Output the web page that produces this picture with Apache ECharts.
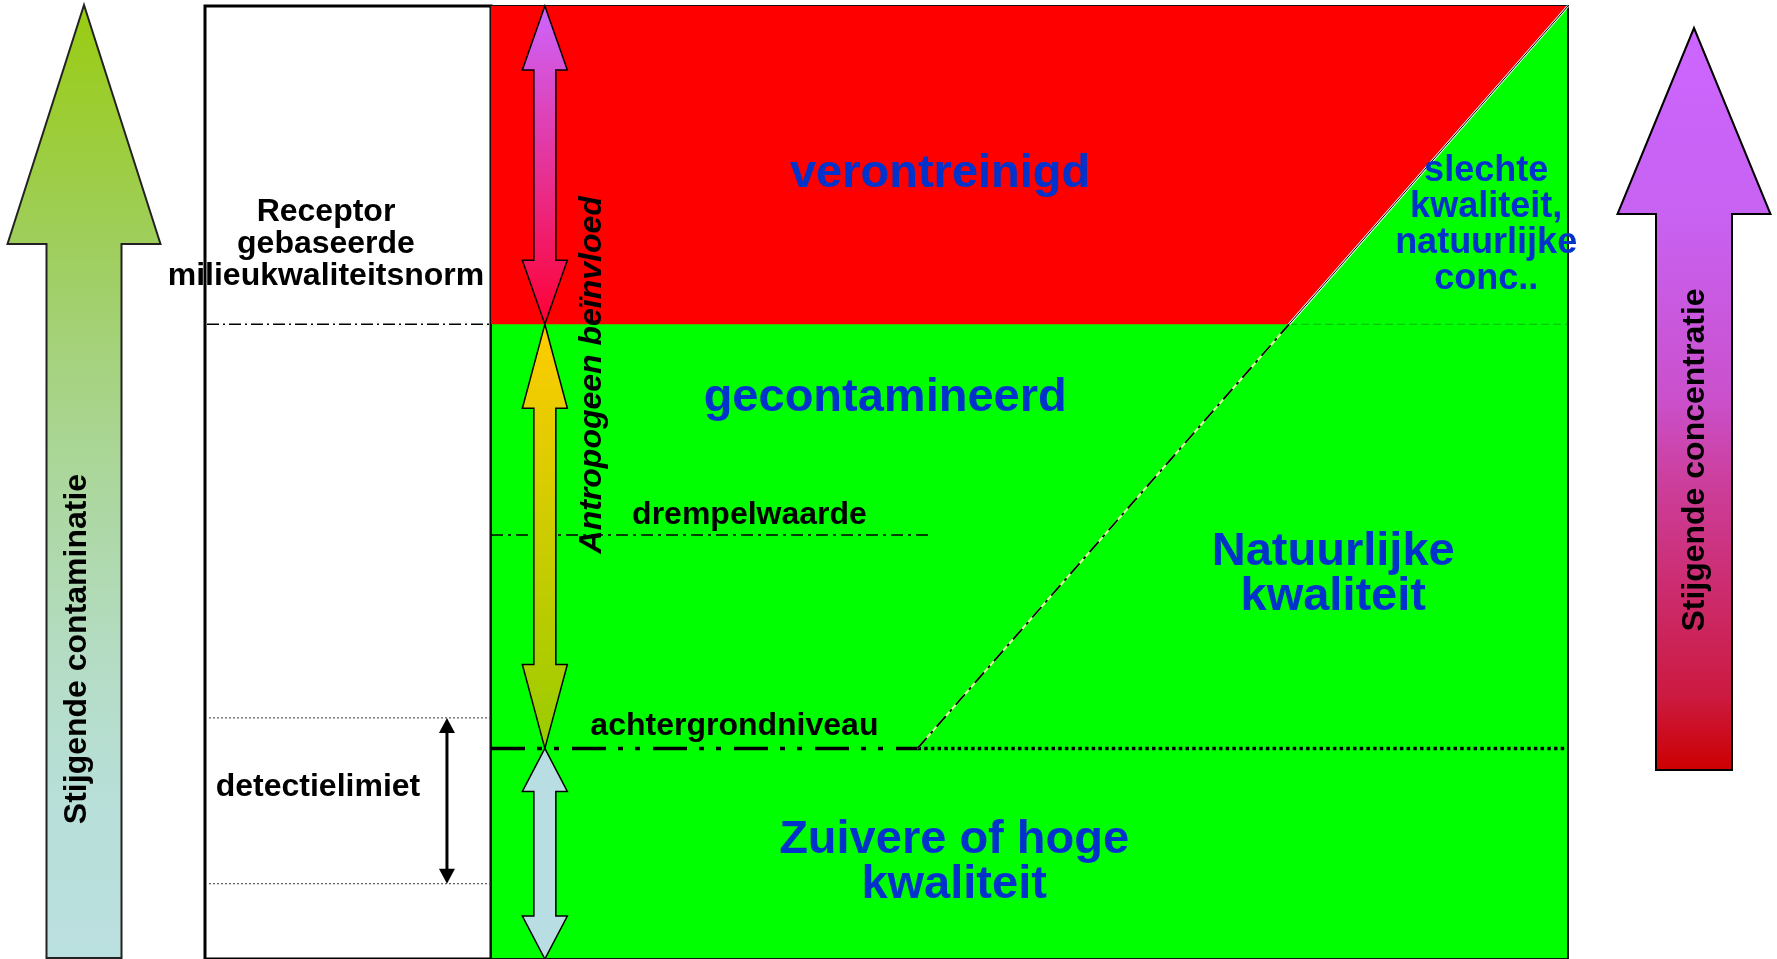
<!DOCTYPE html>
<html>
<head>
<meta charset="utf-8">
<title>Grondwaterkwaliteit</title>
<script src="https://cdn.jsdelivr.net/npm/echarts/dist/echarts.min.js"></script>
<style>
    html, body { margin: 0; padding: 0; background: #fff; }
    #chart { width: 1777px; height: 959px; }
</style>
</head>
<body>
<div id="chart"></div>
<script>
// concentration axis: 0 = bottom of the field, 100 = top
const levelNames = ['milieukwaliteitsnorm', 'drempelwaarde', 'achtergrondniveau']
const levelValues = [66.6, 44.5, 22.1]
const detectionBand = [25.3, 7.9]

// natural quality boundary (x = share of the field, y = concentration)
const naturalLine = [[39.6, 22.1], [74.1, 66.6], [100, 100]]
const drempelEnd = 40.7

// antropogeen arrows: spans on the concentration axis
const arrowSpans = [[100, 66.6], [66.6, 22.1], [22.1, 0]]
const arrowX = 5.0

const zoneNames = ['verontreinigd', 'gecontamineerd', 'Natuurlijke\nkwaliteit', 'Zuivere of hoge\nkwaliteit', 'slechte\nkwaliteit,\nnatuurlijke\nconc..']
const zoneAnchors = [[41.7, 82.4], [36.6, 58.9], [78.2, 40.3], [43.0, 10.1], [92.4, 77.0]]

const markerNames = ['drempelwaarde', 'achtergrondniveau', 'Antropogeen beïnvloed']
const markerAnchors = [[24.0, 46.6], [22.6, 24.4], [9.4, 61.3]]

const boxNames = ['Receptor\ngebaseerde\nmilieukwaliteitsnorm', 'detectielimiet']
const boxAnchors = [[42.3, 75.0], [39.5, 18.0]]
const detectX = 84.6

const sideLabels = ['Stijgende contaminatie', 'Stijgende concentratie']

const FONT = '"Liberation Sans", Arial, Helvetica, sans-serif'
const BLUE = '#0033cc'
const arrowColors = [['#cc66ff', '#ff0033'], ['#ffcc00', '#99cc00'], ['#b8dde2', '#b8dde2']]
const arrowHeads = [64, 84, 43]

const [NORM, DREMPEL, ACHTERGROND] = levelValues
const [natStart, natCross, natEnd] = naturalLine

let chart = echarts.init(document.getElementById('chart'))

function doubleArrow(params, api) {
    const top = api.coord([api.value(0), api.value(1)])
    const bot = api.coord([api.value(0), api.value(2)])
    const i = params.dataIndex
    const cx = top[0], ty = top[1], by = bot[1]
    const hw = 22.5, sw = 11, hl = arrowHeads[i]
    const pts = [
        [cx, ty], [cx + hw, ty + hl], [cx + sw, ty + hl], [cx + sw, by - hl], [cx + hw, by - hl],
        [cx, by], [cx - hw, by - hl], [cx - sw, by - hl], [cx - sw, ty + hl], [cx - hw, ty + hl]
    ]
    return {
        type: 'polygon',
        shape: {points: pts},
        style: {
            fill: new echarts.graphic.LinearGradient(0, 0, 0, 1, [
                {offset: 0, color: arrowColors[i][0]},
                {offset: 1, color: arrowColors[i][1]}
            ]),
            stroke: '#000',
            lineWidth: 1.5
        }
    }
}

function detectArrow(params, api) {
    const top = api.coord([api.value(0), api.value(1)])
    const bot = api.coord([api.value(0), api.value(2)])
    const cx = top[0], ty = top[1], by = bot[1]
    const hw = 8, hl = 15
    return {
        type: 'group',
        children: [
            {type: 'line', shape: {x1: cx, y1: ty + hl - 2, x2: cx, y2: by - hl + 2}, style: {stroke: '#000', lineWidth: 3}},
            {type: 'polygon', shape: {points: [[cx, ty], [cx + hw, ty + hl], [cx - hw, ty + hl]]}, style: {fill: '#000'}},
            {type: 'polygon', shape: {points: [[cx, by], [cx + hw, by - hl], [cx - hw, by - hl]]}, style: {fill: '#000'}}
        ]
    }
}

function seg(name, data, lineStyle, idx, z) {
    return {
        name: name, type: 'line', xAxisIndex: idx, yAxisIndex: idx,
        data: data, symbol: 'none', silent: true, lineStyle: lineStyle, z: z || 3
    }
}

function labels(names, anchors, idx, label, extra) {
    return {
        type: 'scatter', xAxisIndex: idx, yAxisIndex: idx, silent: true,
        symbolSize: 1, itemStyle: {color: 'rgba(0,0,0,0)', opacity: 1}, z: 10,
        data: names.map((n, i) => Object.assign({name: n, value: anchors[i]}, extra ? extra[i] : {})),
        label: Object.assign({
            show: true, position: 'inside', formatter: p => p.name, opacity: 1,
            fontFamily: FONT, fontWeight: 'bold', align: 'center', verticalAlign: 'middle'
        }, label)
    }
}

function sideArrow(tipX, tipY, headY, headHalf, shaftHalf, bottomY, stops, stroke) {
    return {
        type: 'polygon',
        shape: {points: [
            [tipX, tipY], [tipX + headHalf, headY], [tipX + shaftHalf, headY], [tipX + shaftHalf, bottomY],
            [tipX - shaftHalf, bottomY], [tipX - shaftHalf, headY], [tipX - headHalf, headY]
        ]},
        style: {
            fill: new echarts.graphic.LinearGradient(0, 0, 0, 1, stops),
            stroke: stroke, lineWidth: 2
        }
    }
}

function sideText(text, x, y) {
    return {
        type: 'text', x: x, y: y, rotation: Math.PI / 2,
        style: {text: text, fontFamily: FONT, fontWeight: 'bold', fontSize: 32, fill: '#000', align: 'center', verticalAlign: 'middle'}
    }
}

let option = {
    animation: false,
    grid: [
        {left: 205, top: 6, width: 286, height: 953, show: true, backgroundColor: '#fff', borderColor: '#000', borderWidth: 3},
        {left: 491, top: 6, width: 1077, height: 953, show: true, backgroundColor: '#00ff00', borderColor: '#111', borderWidth: 2}
    ],
    xAxis: [
        {type: 'value', gridIndex: 0, min: 0, max: 100, show: false},
        {type: 'value', gridIndex: 1, min: 0, max: 100, show: false}
    ],
    yAxis: [
        {type: 'value', gridIndex: 0, min: 0, max: 100, show: false},
        {type: 'value', gridIndex: 1, min: 0, max: 100, show: false}
    ],
    graphic: [
        sideArrow(84, 5, 244, 76.5, 37.5, 958, [
            {offset: 0, color: '#99cc11'}, {offset: 0.25, color: '#9fce5c'}, {offset: 0.45, color: '#a9d592'},
            {offset: 0.68, color: '#b4dcc3'}, {offset: 0.83, color: '#b8dfd8'}, {offset: 1, color: '#bbe0e0'}
        ], '#222'),
        sideArrow(1694, 28, 214, 76.5, 38, 770, [
            {offset: 0, color: '#cc66ff'}, {offset: 0.25, color: '#c862f2'}, {offset: 0.5, color: '#ca50cc'},
            {offset: 0.6, color: '#cc40a0'}, {offset: 0.77, color: '#cc2a6a'}, {offset: 0.9, color: '#cc1a40'},
            {offset: 1, color: '#cc0000'}
        ], '#000'),
        sideText(sideLabels[0], 77, 649),
        sideText(sideLabels[1], 1695, 460)
    ],
    series: [
        // red zone above the norm, left of the natural boundary
        {
            name: 'verontreinigd', type: 'line', xAxisIndex: 1, yAxisIndex: 1, silent: true,
            data: [[0, NORM], natCross, natEnd], symbol: 'none',
            lineStyle: {width: 0}, areaStyle: {color: '#ff0000', opacity: 1, origin: 'end'}, z: 1
        },
        seg('norm rest', [natCross, [100, NORM]], {color: 'rgba(0,90,0,0.45)', width: 1, type: [8, 4]}, 1, 2),
        seg(levelNames[1], [[0, DREMPEL], [drempelEnd, DREMPEL]], {color: '#000', width: 1.5, type: [12, 5, 3, 5]}, 1),
        seg(levelNames[2], [[0, ACHTERGROND], natStart], {color: '#000', width: 3.5, type: [34, 12, 5, 12, 5, 13]}, 1),
        seg(levelNames[2] + ' natuurlijk', [natStart, [100, ACHTERGROND]], {color: '#000', width: 3.5, type: [3.5, 3.2]}, 1),
        seg('grens laag', [natStart, natCross], {color: '#eeffaa', width: 2}, 1),
        seg('grens laag stip', [natStart, natCross], {color: '#000', width: 1.8, type: [14, 6, 3, 6]}, 1, 4),
        seg('grens hoog', [natCross, natEnd], {color: '#fff', width: 2.5}, 1),
        seg('grens hoog lijn', [natCross, natEnd], {color: '#000', width: 1}, 1, 4),
        {
            name: 'antropogeen', type: 'custom', xAxisIndex: 1, yAxisIndex: 1, silent: true, z: 5,
            renderItem: doubleArrow,
            data: arrowSpans.map(s => [arrowX, s[0], s[1]])
        },
        labels(zoneNames, zoneAnchors, 1, {color: BLUE, fontSize: 47, lineHeight: 45}, [
            {}, {}, {}, {},
            {label: {fontSize: 36, lineHeight: 36}}
        ]),
        labels(markerNames, markerAnchors, 1, {color: '#000', fontSize: 32}, [
            {}, {},
            {label: {rotate: 90, fontStyle: 'italic'}}
        ]),

        // white box on the left
        seg(levelNames[0], [[0.7, NORM], [100, NORM]], {color: '#000', width: 1.5, type: [12, 4, 2, 4]}, 0),
        seg('detectielimiet boven', [[1.4, detectionBand[0]], [100, detectionBand[0]]], {color: '#333', width: 1, type: [2, 2]}, 0),
        seg('detectielimiet onder', [[1.4, detectionBand[1]], [100, detectionBand[1]]], {color: '#333', width: 1, type: [2, 2]}, 0),
        {
            name: 'detectiebereik', type: 'custom', xAxisIndex: 0, yAxisIndex: 0, silent: true, z: 5,
            renderItem: detectArrow,
            data: [[detectX, detectionBand[0], detectionBand[1]]]
        },
        labels(boxNames, boxAnchors, 0, {color: '#000', fontSize: 32, lineHeight: 32})
    ]
}

chart.setOption(option)
</script>
</body>
</html>
